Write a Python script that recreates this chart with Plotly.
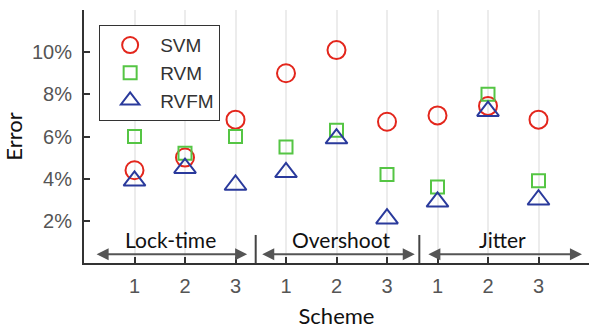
import plotly.graph_objects as go

# Scheme index along x (three schemes per metric group)
scheme_pos = [1, 2, 3, 4, 5, 6, 7, 8, 9]
scheme_labels = ["1", "2", "3", "1", "2", "3", "1", "2", "3"]

# Error (%) per model
svm = [4.4, 5.0, 6.8, 9.0, 10.1, 6.7, 7.0, 7.45, 6.8]
rvm = [6.0, 5.2, 6.0, 5.5, 6.3, 4.2, 3.6, 8.0, 3.9]
rvfm = [3.9, 4.5, 3.7, 4.3, 5.9, 2.1, 2.9, 7.2, 3.0]

# Metric groups
group_names = ["Lock-time", "Overshoot", "Jitter"]
group_label_x = [1.71, 5.08, 8.29]
group_arrow_span = [(0.22, 3.23), (3.50, 6.55), (6.79, 9.86)]
separator_x = [3.40, 6.64]

y_ticks = [2, 4, 6, 8, 10]
y_tick_text = ["2%", "4%", "6%", "8%", "10%"]

RED = "#e3261c"
GREEN = "#55c544"
BLUE = "#2a3a9c"
AXIS = "#333333"

fig = go.Figure()
fig.add_trace(go.Scatter(
    x=scheme_pos, y=svm, mode="markers", name="SVM",
    marker=dict(symbol="circle-open", size=18, color=RED, line=dict(width=2, color=RED)),
))
fig.add_trace(go.Scatter(
    x=scheme_pos, y=rvm, mode="markers", name="RVM",
    marker=dict(symbol="square-open", size=13, color=GREEN, line=dict(width=2, color=GREEN)),
))
fig.add_trace(go.Scatter(
    x=scheme_pos, y=rvfm, mode="markers", name="RVFM",
    marker=dict(symbol="triangle-up-open", size=19, color=BLUE, line=dict(width=2, color=BLUE)),
))

# Double-headed arrows and names under each metric group
for name, lx, (x0, x1) in zip(group_names, group_label_x, group_arrow_span):
    fig.add_annotation(
        x=x1, y=0.41, ax=x0, ay=0.41, xref="x", yref="y", axref="x", ayref="y",
        text="", showarrow=True, arrowhead=2, startarrowhead=2, arrowside="end+start",
        arrowsize=1.2, arrowwidth=2, arrowcolor="#555555",
    )
    fig.add_annotation(
        x=lx, y=1.12, xref="x", yref="y", text=name, showarrow=False,
        font=dict(family="Lato, sans-serif", size=21, color="#111111"),
    )

# Vertical separators between groups
for sx in separator_x:
    fig.add_shape(type="line", x0=sx, x1=sx, y0=0, y1=1.33, xref="x", yref="y",
                  line=dict(color="#444444", width=2))

fig.update_layout(
    width=589, height=329,
    margin=dict(l=84, r=0, t=10, b=66),
    paper_bgcolor="white", plot_bgcolor="white",
    showlegend=True,
    legend=dict(
        x=0.03, y=0.94, xanchor="left", yanchor="top",
        bgcolor="white", bordercolor="#333333", borderwidth=1,
        font=dict(family="Liberation Sans, Arial, sans-serif", size=19, color="#333333"),
        tracegroupgap=0, itemwidth=50,
    ),
    xaxis=dict(
        range=[0, 10], tickmode="array", tickvals=scheme_pos, ticktext=scheme_labels,
        ticks="inside", ticklen=6, tickwidth=2, tickcolor=AXIS,
        showline=True, linecolor=AXIS, linewidth=2,
        showgrid=True, gridcolor="#ececec", gridwidth=2, zeroline=False,
        tickfont=dict(family="Liberation Sans, Arial, sans-serif", size=20, color="#555555"),
        ticklabelstandoff=4,
        title=dict(text="Scheme", standoff=14,
                   font=dict(family="Lato, sans-serif", size=22, color="#111111")),
    ),
    yaxis=dict(
        range=[0, 12], tickmode="array", tickvals=y_ticks, ticktext=y_tick_text,
        ticks="inside", ticklen=6, tickwidth=2, tickcolor=AXIS,
        showline=True, linecolor=AXIS, linewidth=2,
        showgrid=False, zeroline=False,
        tickfont=dict(family="Liberation Sans, Arial, sans-serif", size=20, color="#555555"),
        ticklabelstandoff=6,
        title=dict(text="Error", standoff=8,
                   font=dict(family="Lato, sans-serif", size=22, color="#111111")),
    ),
)

fig.write_html("out.html")
